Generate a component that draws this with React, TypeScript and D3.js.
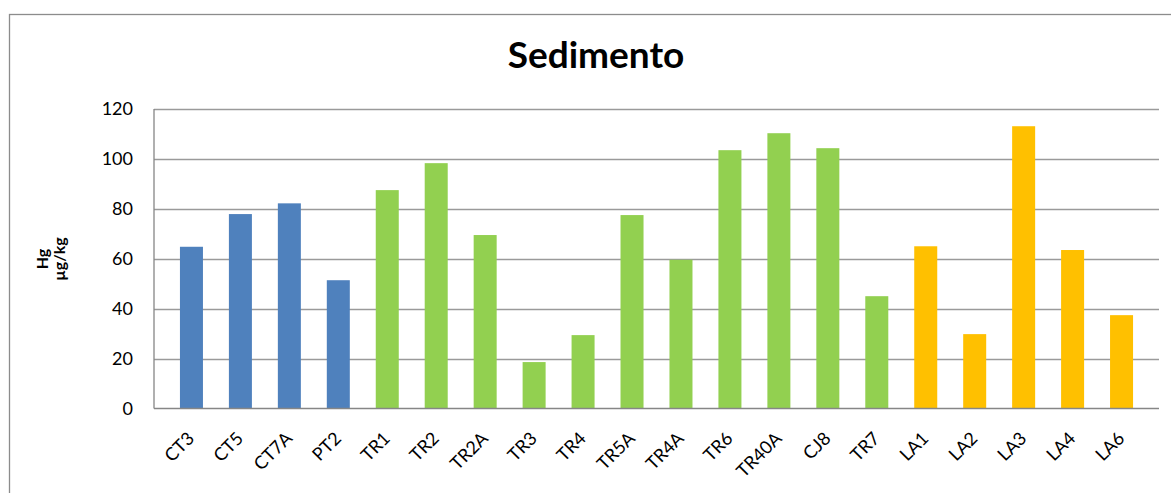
import React, { useEffect, useRef } from 'react';
import * as d3 from 'd3';

const categories = ['CT3', 'CT5', 'CT7A', 'PT2', 'TR1', 'TR2', 'TR2A', 'TR3', 'TR4', 'TR5A', 'TR4A', 'TR6', 'TR40A', 'CJ8', 'TR7', 'LA1', 'LA2', 'LA3', 'LA4', 'LA6'];
const values = [64.8, 77.9, 82.2, 51.4, 87.5, 98.3, 69.5, 18.6, 29.4, 77.5, 59.6, 103.5, 110.3, 104.3, 45, 65, 29.8, 113.1, 63.5, 37.4];
const groups = ['CT', 'CT', 'CT', 'CT', 'TR', 'TR', 'TR', 'TR', 'TR', 'TR', 'TR', 'TR', 'TR', 'TR', 'TR', 'LA', 'LA', 'LA', 'LA', 'LA'];
const groupColors: Record<string, string> = { CT: '#4F81BD', TR: '#92D050', LA: '#FFC000' };
const yTicks = [0, 20, 40, 60, 80, 100, 120];

const W = 1171;
const H = 493;

const App = () => {
  const ref = useRef<SVGSVGElement>(null);

  useEffect(() => {
    const svg = d3.select(ref.current);
    svg.selectAll('*').remove();

    const left = 154, right = 1159, top = 109, bottom = 408.5;
    const font = 'Lato, "Open Sans", sans-serif';

    // outer chart border
    svg.append('rect')
      .attr('x', 9.5).attr('y', 14.5)
      .attr('width', W + 20).attr('height', H + 20)
      .attr('fill', 'white').attr('stroke', '#8c8c8c').attr('stroke-width', 1.3);

    const x = d3.scaleBand().domain(categories).range([left, right]).padding(0.53);
    const y = d3.scaleLinear().domain([0, 120]).range([bottom, top]);

    // gridlines
    svg.append('g').selectAll('line')
      .data(yTicks.filter(t => t > 0))
      .enter().append('line')
      .attr('x1', left).attr('x2', right)
      .attr('y1', d => Math.round(y(d)) + 0.5).attr('y2', d => Math.round(y(d)) + 0.5)
      .attr('stroke', '#9a9a9a').attr('stroke-width', 1.3);

    // y tick labels
    svg.append('g').selectAll('text')
      .data(yTicks)
      .enter().append('text')
      .attr('x', 133).attr('y', d => y(d))
      .attr('dy', '0.36em')
      .attr('text-anchor', 'end')
      .style('font-family', font).style('font-size', '18px').attr('fill', '#000')
      .text(d => d);

    // bars
    svg.append('g').selectAll('rect')
      .data(values)
      .enter().append('rect')
      .attr('x', (d, i) => x(categories[i]) as number)
      .attr('width', x.bandwidth())
      .attr('y', d => y(d))
      .attr('height', d => y(0) - y(d))
      .attr('fill', (d, i) => groupColors[groups[i]]);

    // axes lines
    svg.append('line')
      .attr('x1', left).attr('x2', left).attr('y1', top).attr('y2', bottom)
      .attr('stroke', '#868686').attr('stroke-width', 1.3);
    svg.append('line')
      .attr('x1', left).attr('x2', right).attr('y1', bottom).attr('y2', bottom)
      .attr('stroke', '#868686').attr('stroke-width', 1.5);

    // x labels
    svg.append('g').selectAll('text')
      .data(categories)
      .enter().append('text')
      .attr('transform', d => `translate(${(x(d) as number) + x.bandwidth() / 2 + 4},${bottom + 31}) rotate(-45)`)
      .attr('text-anchor', 'end')
      .style('font-family', font).style('font-size', '18px').attr('fill', '#000')
      .text(d => d);

    // title
    svg.append('text')
      .attr('x', 596).attr('y', 68)
      .attr('text-anchor', 'middle')
      .style('font-family', font).style('font-size', '37px').style('font-weight', 'bold')
      .text('Sedimento');

    // y axis title
    const yt = svg.append('text')
      .attr('transform', 'translate(50,259) rotate(-90)')
      .attr('text-anchor', 'middle')
      .style('font-family', font).style('font-size', '16px').style('font-weight', 'bold');
    yt.append('tspan').attr('x', 0).attr('dy', '-0.15em').text('Hg');
    yt.append('tspan').attr('x', 0).attr('dy', '1.1em').text('µg/kg');
  }, []);

  return (
    <svg ref={ref} width={W} height={H} style={{ position: 'absolute', left: 0, top: 0, background: '#fff' }} />
  );
};

export default App;
